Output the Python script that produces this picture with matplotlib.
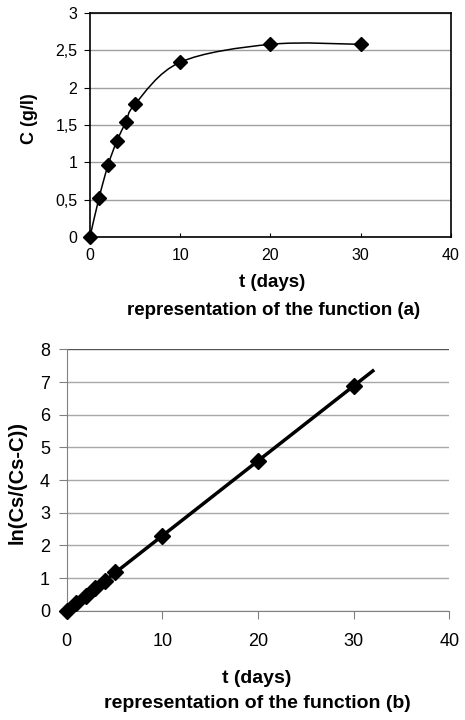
import numpy as np
import matplotlib.pyplot as plt
from matplotlib.path import Path
from matplotlib.patches import PathPatch
from matplotlib.ticker import FuncFormatter

plt.rcParams['font.family'] = ['Liberation Sans', 'DejaVu Sans']

# data
t_days = [0, 1, 2, 3, 4, 5, 10, 20, 30]
conc = [0, 0.52, 0.96, 1.29, 1.54, 1.78, 2.34, 2.58, 2.58]
ln_ratio = [0, 0.245, 0.46, 0.70, 0.92, 1.17, 2.30, 4.59, 6.88]
fit_t = [0, 32]
fit_y = [0, 7.34]

x_ticks = [0, 10, 20, 30, 40]
yticks_a = [0, 0.5, 1, 1.5, 2, 2.5, 3]
yticks_b = [0, 1, 2, 3, 4, 5, 6, 7, 8]


def smooth_path(xs, ys):
    # Excel-style smoothed line: cubic bezier through the points
    pts = np.column_stack([xs, ys]).astype(float)
    verts = [pts[0]]
    codes = [Path.MOVETO]
    n = len(pts)
    for i in range(n - 1):
        p0 = pts[i - 1] if i > 0 else pts[i]
        p1 = pts[i]
        p2 = pts[i + 1]
        p3 = pts[i + 2] if i + 2 < n else pts[i + 1]
        c1 = p1 + (p2 - p0) / 6.0
        c2 = p2 - (p3 - p1) / 6.0
        verts += [c1, c2, p2]
        codes += [Path.CURVE4] * 3
    return Path(verts, codes)


comma = FuncFormatter(lambda v, p: ('%g' % v).replace('.', ','))

fig = plt.figure(figsize=(4.65, 7.2), dpi=100)

# ---- chart (a)
ax1 = fig.add_axes([0.1935, 0.671, 0.776, 0.311])
ax1.add_patch(PathPatch(smooth_path(t_days, conc), fill=False, color='black', lw=1.1, zorder=3))
ax1.plot(t_days, conc, linestyle='none', marker='D', color='black', markersize=7, zorder=4, clip_on=False)
ax1.set_xlim(0, 40)
ax1.set_ylim(0, 3)
ax1.set_xticks(x_ticks)
ax1.set_yticks(yticks_a)
ax1.yaxis.set_major_formatter(comma)
ax1.grid(axis='y', color='#a0a0a0', lw=1)
ax1.set_axisbelow(True)
for s in ax1.spines.values():
    s.set_color('black')
    s.set_linewidth(1.2)
ax1.tick_params(axis='x', direction='in', length=3, pad=8, labelsize=11.5)
ax1.tick_params(axis='y', direction='out', length=4, pad=5, labelsize=11.5)
ax1.set_ylabel('C (g/l)', fontsize=13, fontweight='bold')
ax1.yaxis.set_label_coords(-0.144, 0.53)
fig.text(0.585, 0.607, 't (days)', fontsize=13.5, fontweight='bold', ha='center', va='center')
fig.text(0.589, 0.569, 'representation of the function (a)', fontsize=13.5,
         fontweight='bold', ha='center', va='center')

# ---- chart (b)
ax2 = fig.add_axes([0.1434, 0.1518, 0.823, 0.363])
ax2.plot(fit_t, fit_y, color='black', lw=2.5, zorder=3)
ax2.plot(t_days, ln_ratio, linestyle='none', marker='D', color='black', markersize=8.5, zorder=4, clip_on=False)
ax2.set_xlim(0, 40)
ax2.set_ylim(0, 8)
ax2.set_xticks(x_ticks)
ax2.set_yticks(yticks_b)
ax2.grid(axis='y', color='#a8a8a8', lw=1)
ax2.get_ygridlines()[-1].set_color('#555555')
ax2.set_axisbelow(True)
ax2.spines['top'].set_visible(False)
ax2.spines['right'].set_visible(False)
ax2.spines['left'].set_color('#808080')
ax2.spines['bottom'].set_color('#808080')
ax2.tick_params(colors='#808080', labelcolor='black', labelsize=13)
ax2.tick_params(axis='x', direction='out', length=6, pad=10)
ax2.tick_params(axis='y', direction='out', length=6, pad=6)
ax2.set_ylabel('ln(Cs/(Cs-C))', fontsize=14.5, fontweight='bold')
ax2.yaxis.set_label_coords(-0.104, 0.489)
fig.text(0.553, 0.0583, 't (days)', fontsize=14, fontweight='bold', ha='center', va='center')
fig.text(0.553, 0.0236, 'representation of the function (b)', fontsize=14,
         fontweight='bold', ha='center', va='center')

fig.savefig('out.png', dpi=100)
